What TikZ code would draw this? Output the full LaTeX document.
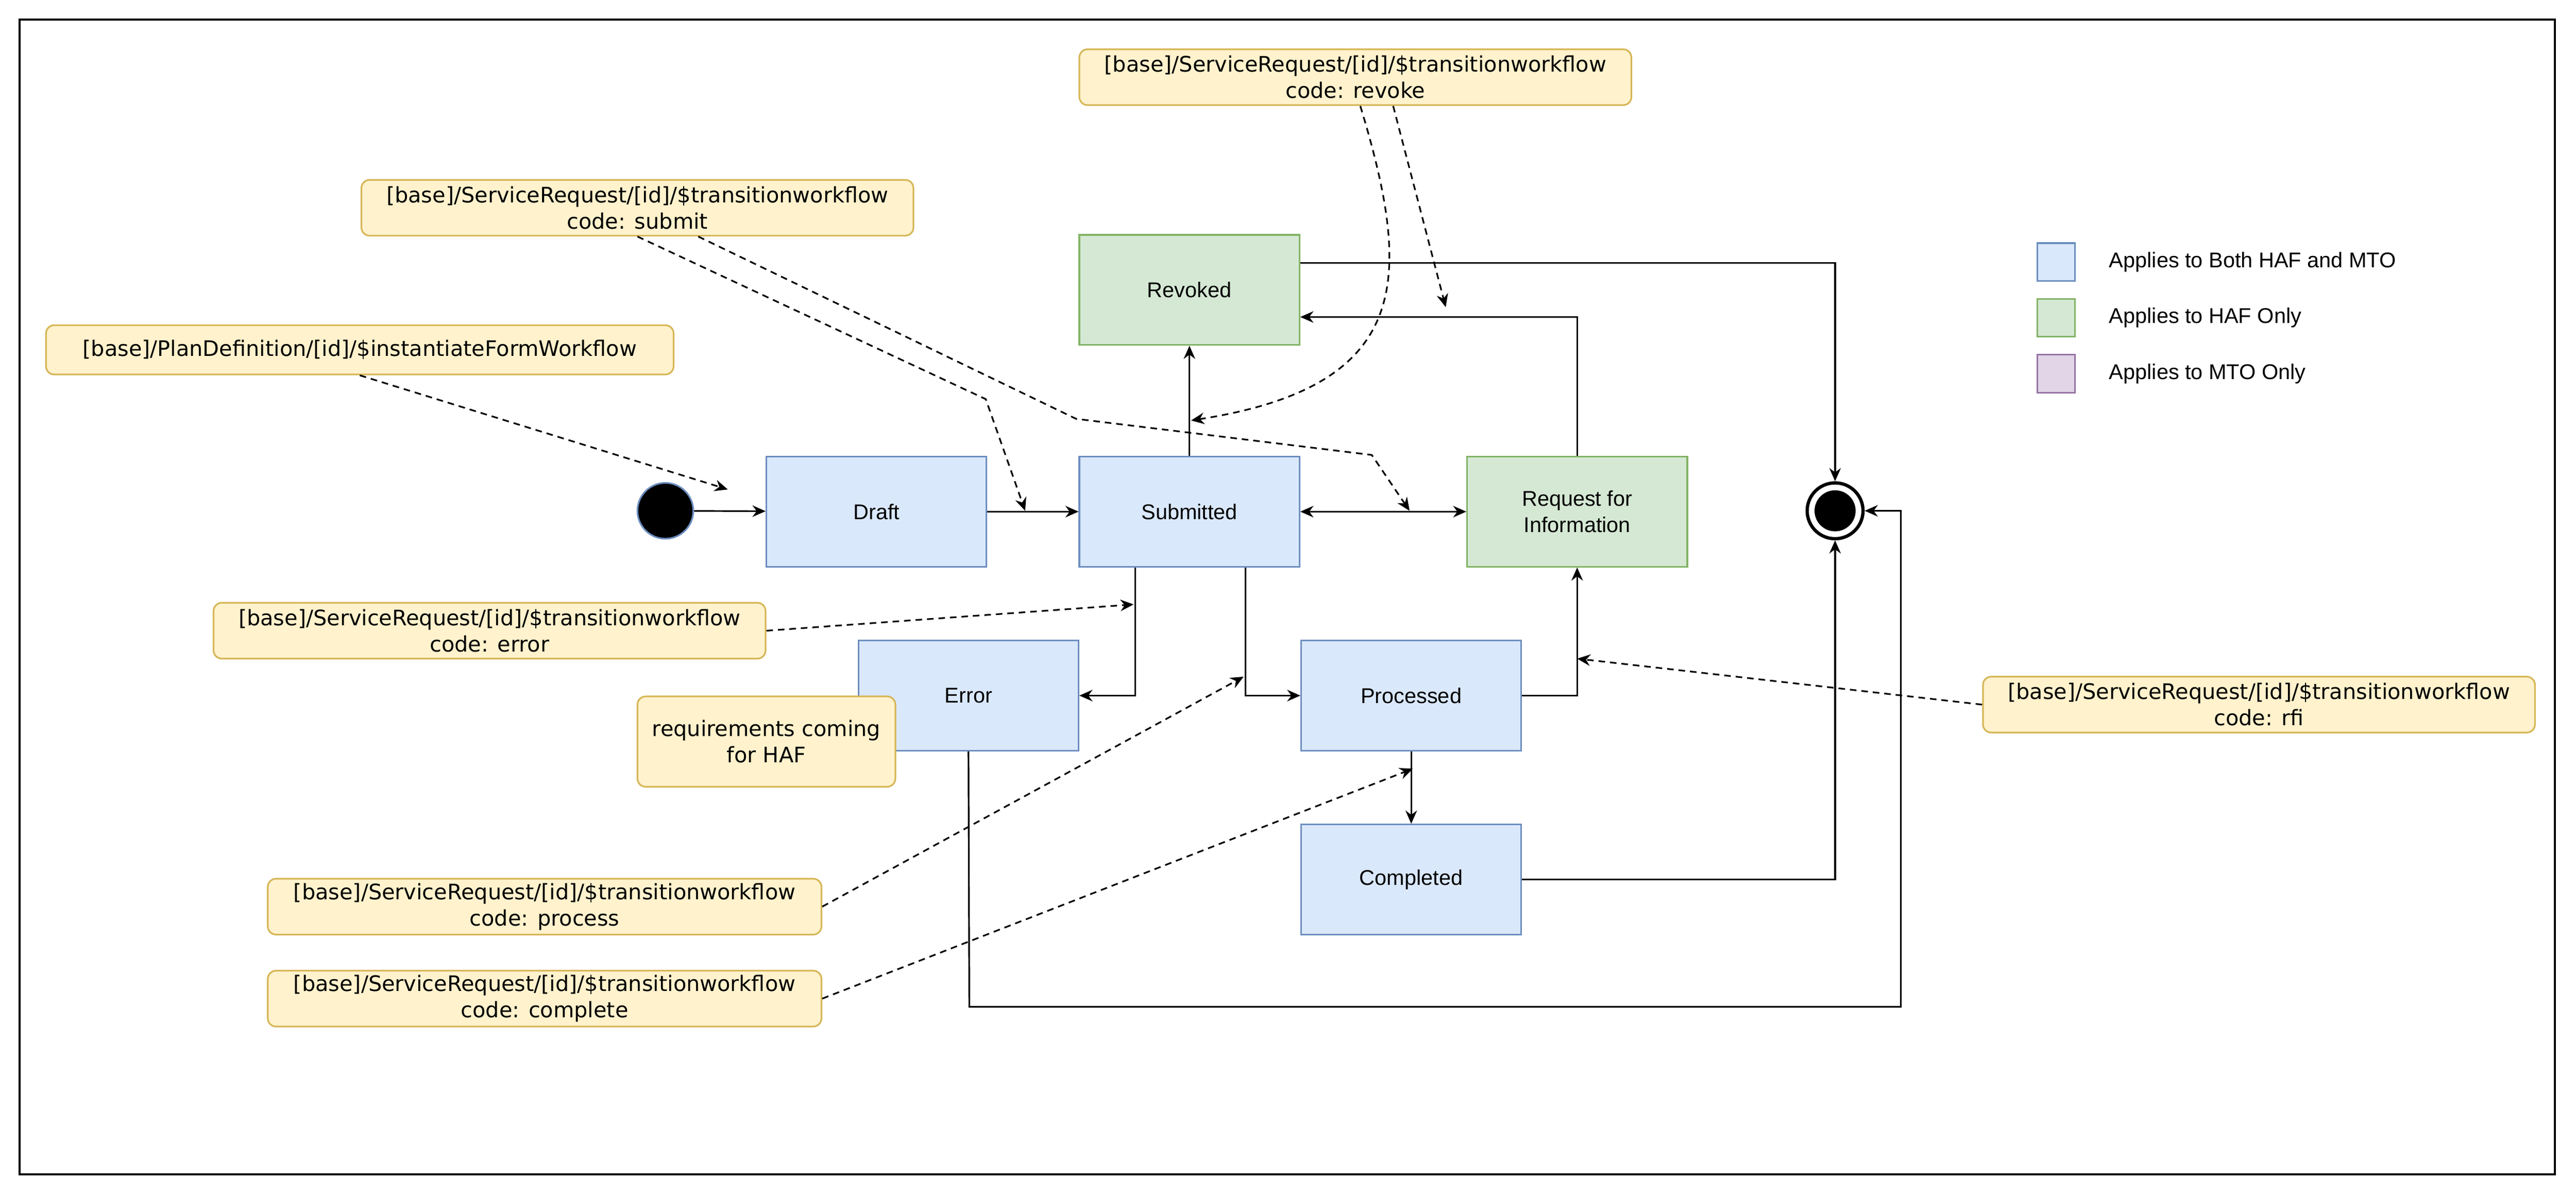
\documentclass[tikz,border=0pt]{standalone}
\usepackage{fontspec}
\setmainfont{Liberation Sans}
\newfontfamily\notefont{DejaVu Sans}
\usetikzlibrary{arrows.meta}
\definecolor{bfill}{HTML}{DAE8FC}\definecolor{bline}{HTML}{6C8EBF}
\definecolor{gfill}{HTML}{D5E8D4}\definecolor{gline}{HTML}{82B366}
\definecolor{pfill}{HTML}{E1D5E7}\definecolor{pline}{HTML}{9673A6}
\definecolor{yfill}{HTML}{FFF2CC}\definecolor{yline}{HTML}{D6B656}
\begin{document}
\begin{tikzpicture}[x=1pt,y=-1pt,line width=1pt,
 >={Stealth[length=8pt,width=7pt]},
 st/.style={draw=bline,fill=bfill,minimum width=134pt,minimum height=67pt,font=\fontsize{13}{16}\selectfont,align=center,inner sep=0pt},
 gst/.style={st,draw=gline,fill=gfill},
 note/.style={draw=yline,fill=yfill,rounded corners=5pt,font=\notefont\fontsize{13}{16}\selectfont,align=center,inner sep=0pt,minimum height=34pt},
 leg/.style={draw=#1line,fill=#1fill,minimum size=23pt,inner sep=0pt},
 legt/.style={anchor=west,font=\fontsize{13}{16}\selectfont},
 da/.style={->,dashed,dash pattern=on 4pt off 3pt}]
\useasboundingbox (0,0) rectangle (1568,728);
\draw[line width=1.2pt] (12,12) rectangle (1555,715);
% states
\node[circle,fill=black,draw=bline,minimum size=34pt,inner sep=0pt] (start) at (405,311) {};
\node[st] (draft) at (533.5,311.5) {Draft};
\node[st] (sub) at (724,311.5) {Submitted};
\node[gst] (rev) at (724,176.5) {Revoked};
\node[gst] (rfi) at (960,311.5) {Request for\\Information};
\node[st] (err) at (589.5,423.5) {Error};
\node[st] (proc) at (859,423.5) {Processed};
\node[st] (comp) at (859,535.5) {Completed};
\node[circle,draw=black,line width=2pt,minimum size=34pt,inner sep=0pt] (end) at (1117,311) {};
\fill (end.center) circle (12.5pt);
\node[note,minimum width=157pt,minimum height=55pt] (req) at (466.5,451.5) {requirements coming\\for HAF};
% legend
\node[leg=b] (l1) at (1251.5,159.5) {};
\node[legt] (t1) at (1280,159.5) {Applies to Both HAF and MTO};
\node[leg=g] (l2) at (1251.5,193.5) {};
\node[legt] (t2) at (1280,193.5) {Applies to HAF Only};
\node[leg=p] (l3) at (1251.5,227.5) {};
\node[legt] (t3) at (1280,227.5) {Applies to MTO Only};
% notes
\node[note,minimum width=336pt] (nrev) at (825,47) {[base]/ServiceRequest/[id]/\$transitionworkflow\\code: revoke};
\node[note,minimum width=336pt] (nsub) at (388,126.5) {[base]/ServiceRequest/[id]/\$transitionworkflow\\code: submit};
\node[note,minimum width=382pt,minimum height=30pt] (ninst) at (219,213) {[base]/PlanDefinition/[id]/\$instantiateFormWorkflow};
\node[note,minimum width=336pt] (nerr) at (298,384) {[base]/ServiceRequest/[id]/\$transitionworkflow\\code: error};
\node[note,minimum width=337pt] (nproc) at (331.5,552) {[base]/ServiceRequest/[id]/\$transitionworkflow\\code: process};
\node[note,minimum width=337pt] (ncomp) at (331.5,608) {[base]/ServiceRequest/[id]/\$transitionworkflow\\code: complete};
\node[note,minimum width=336pt] (nrfi) at (1375,429) {[base]/ServiceRequest/[id]/\$transitionworkflow\\code: rfi};
% transitions
\draw[->] (start) -- (draft);
\draw[->] (draft) -- (sub);
\draw[<->] (sub) -- (rfi);
\draw[->] (sub) -- (rev);
\draw[->] (rfi.north) |- (rev.east |- 0,193);
\draw[->] (rev.east |- 0,160) -| (end.north);
\draw[->] (sub.south -| 691,0) |- (err.east);
\draw[->] (sub.south -| 758,0) |- (proc.west);
\draw[->] (proc.east) -| (rfi.south);
\draw[->] (proc) -- (comp);
\draw[->] (comp.east) -| (end.south);
\draw[->] (err.south) -- (590,613) -- (1157,613) -- (1157,311) -- (end.east);
% dashed
\coordinate (a1) at (443,298);
\draw[da] (ninst.south) -- (a1);
\coordinate (a2) at (624,311);
\draw[da] (nsub.south) -- (600,243) -- (a2);
\coordinate (a3) at (858,311);
\draw[da] (nsub.south -| 425,0) -- (655,255) -- (835,277) -- (a3);
\coordinate (a4) at (725,256);
\draw[da] (nrev.south -| 828,0) .. controls (860,170) and (860,235) .. (a4);
\coordinate (a5) at (880,187);
\draw[da] (nrev.south -| 848,0) -- (a5);
\coordinate (a6) at (690,368);
\draw[da] (nerr.east) -- (a6);
\coordinate (a7) at (757,412);
\draw[da] (nproc.east) -- (a7);
\coordinate (a8) at (860,468);
\draw[da] (ncomp.east) -- (a8);
\coordinate (a9) at (960,401);
\draw[da] (nrfi.west) -- (a9);
\end{tikzpicture}
\end{document}
